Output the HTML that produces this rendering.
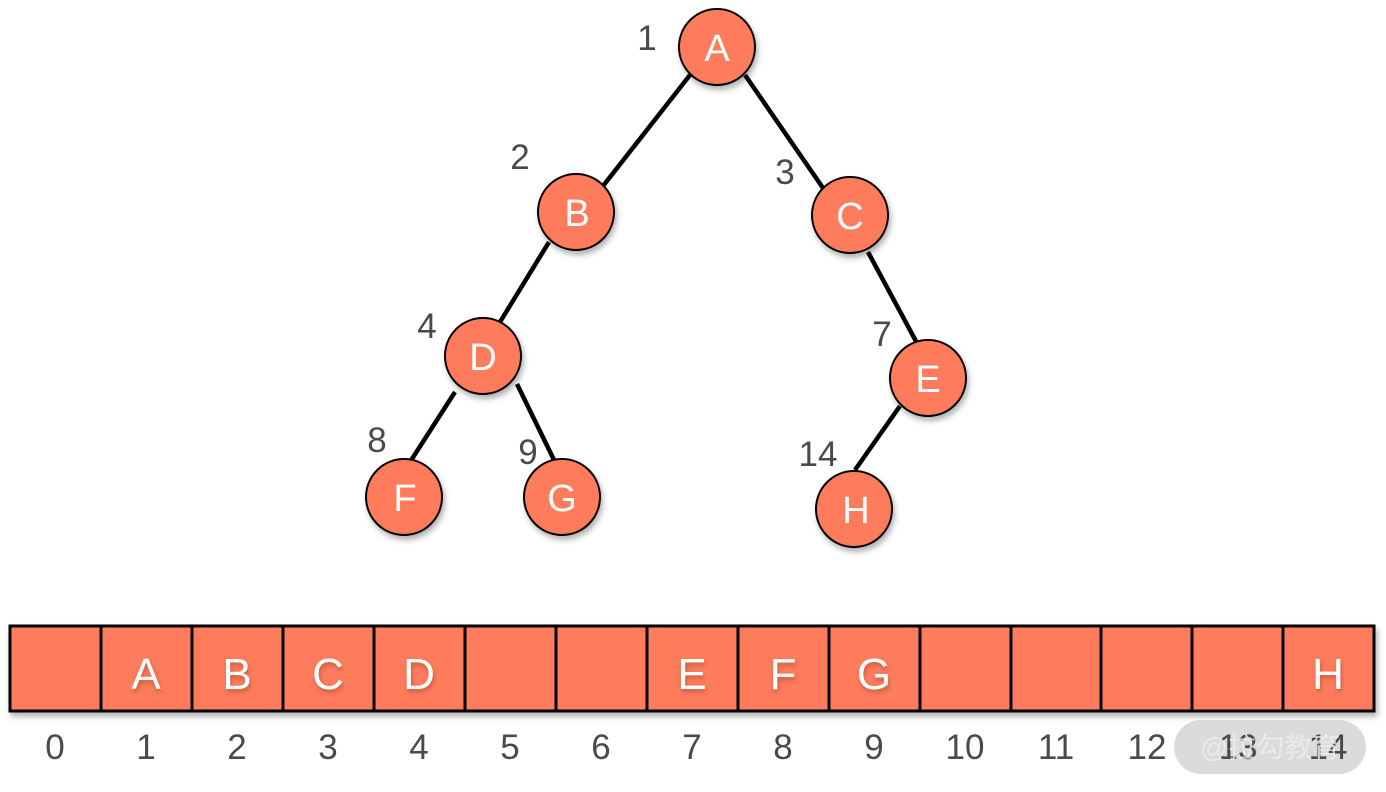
<!DOCTYPE html>
<html><head><meta charset="utf-8"><style>
html,body{margin:0;padding:0;background:#fff;}
svg{display:block;}
text{font-family:"Liberation Sans",sans-serif;}
</style></head><body>
<svg width="1386" height="792" viewBox="0 0 1386 792" xmlns="http://www.w3.org/2000/svg">
<defs>
<filter id="sh" x="-30%" y="-30%" width="160%" height="160%"><feDropShadow dx="2" dy="4" stdDeviation="3" flood-color="#000" flood-opacity="0.3"/></filter>
<filter id="ts"><feDropShadow dx="1" dy="3" stdDeviation="2" flood-color="#8a3a20" flood-opacity="0.5"/></filter>
</defs>
<g stroke="#000" stroke-width="4.5">
<line x1="690" y1="75" x2="603" y2="186"/>
<line x1="745" y1="75" x2="823" y2="188"/>
<line x1="549" y1="242" x2="500" y2="322"/>
<line x1="868" y1="252" x2="918" y2="345"/>
<line x1="455" y1="392" x2="410" y2="462"/>
<line x1="517" y1="384" x2="555" y2="462"/>
<line x1="900" y1="406" x2="855" y2="470"/>
</g>
<g fill="#fe7b5b" stroke="#000" stroke-width="2" filter="url(#sh)">
<circle cx="717" cy="47" r="38"/>
<circle cx="576" cy="212" r="38"/>
<circle cx="850" cy="215" r="38"/>
<circle cx="483" cy="356" r="38"/>
<circle cx="928" cy="378" r="38"/>
<circle cx="404" cy="497" r="38"/>
<circle cx="562" cy="497" r="38"/>
<circle cx="854" cy="509" r="38"/>
</g>
<g fill="#fff" font-size="38" text-anchor="middle">
<text x="717" y="61">A</text>
<text x="577" y="226">B</text>
<text x="850" y="229">C</text>
<text x="483" y="370">D</text>
<text x="928" y="392">E</text>
<text x="405" y="511">F</text>
<text x="562" y="511">G</text>
<text x="856" y="523">H</text>
</g>
<g fill="#4a4a4a" font-size="35" text-anchor="middle">
<text x="647" y="50">1</text>
<text x="520" y="169">2</text>
<text x="785" y="184">3</text>
<text x="427" y="338">4</text>
<text x="882" y="346">7</text>
<text x="377" y="452">8</text>
<text x="528" y="464">9</text>
<text x="818" y="466">14</text>
</g>
<rect x="10" y="626" width="1364" height="85" fill="#fe7b5b" stroke="#000" stroke-width="3" filter="url(#sh)"/>
<g stroke="#000" stroke-width="3">
<line x1="101" y1="626" x2="101" y2="711"/><line x1="192" y1="626" x2="192" y2="711"/>
<line x1="283" y1="626" x2="283" y2="711"/><line x1="374" y1="626" x2="374" y2="711"/>
<line x1="465" y1="626" x2="465" y2="711"/><line x1="556" y1="626" x2="556" y2="711"/>
<line x1="647" y1="626" x2="647" y2="711"/><line x1="738" y1="626" x2="738" y2="711"/>
<line x1="829" y1="626" x2="829" y2="711"/><line x1="920" y1="626" x2="920" y2="711"/>
<line x1="1011" y1="626" x2="1011" y2="711"/><line x1="1101" y1="626" x2="1101" y2="711"/>
<line x1="1192" y1="626" x2="1192" y2="711"/><line x1="1283" y1="626" x2="1283" y2="711"/>
</g>
<g fill="#fff" font-size="44" text-anchor="middle" filter="url(#ts)">
<text x="146" y="689">A</text><text x="237" y="689">B</text><text x="328" y="689">C</text>
<text x="419" y="689">D</text><text x="692" y="689">E</text><text x="783" y="689">F</text>
<text x="874" y="689">G</text><text x="1328" y="689">H</text>
</g>
<rect x="1174" y="720" width="192" height="54" rx="27" fill="#ccc" opacity="0.7"/>
<g fill="#4a4a4a" font-size="35" text-anchor="middle">
<text x="55" y="759">0</text><text x="146" y="759">1</text><text x="237" y="759">2</text>
<text x="328" y="759">3</text><text x="419" y="759">4</text><text x="510" y="759">5</text>
<text x="601" y="759">6</text><text x="692" y="759">7</text><text x="783" y="759">8</text>
<text x="874" y="759">9</text><text x="965" y="759">10</text><text x="1056" y="759">11</text>
<text x="1147" y="759">12</text><text x="1238" y="759">13</text><text x="1328" y="759">14</text>
</g>
<text x="1270" y="757" font-size="28" fill="#eee" opacity="0.8" text-anchor="middle" font-family="'Liberation Sans','Noto Sans CJK SC',sans-serif">@拉勾教育</text>
</svg>
</body></html>
